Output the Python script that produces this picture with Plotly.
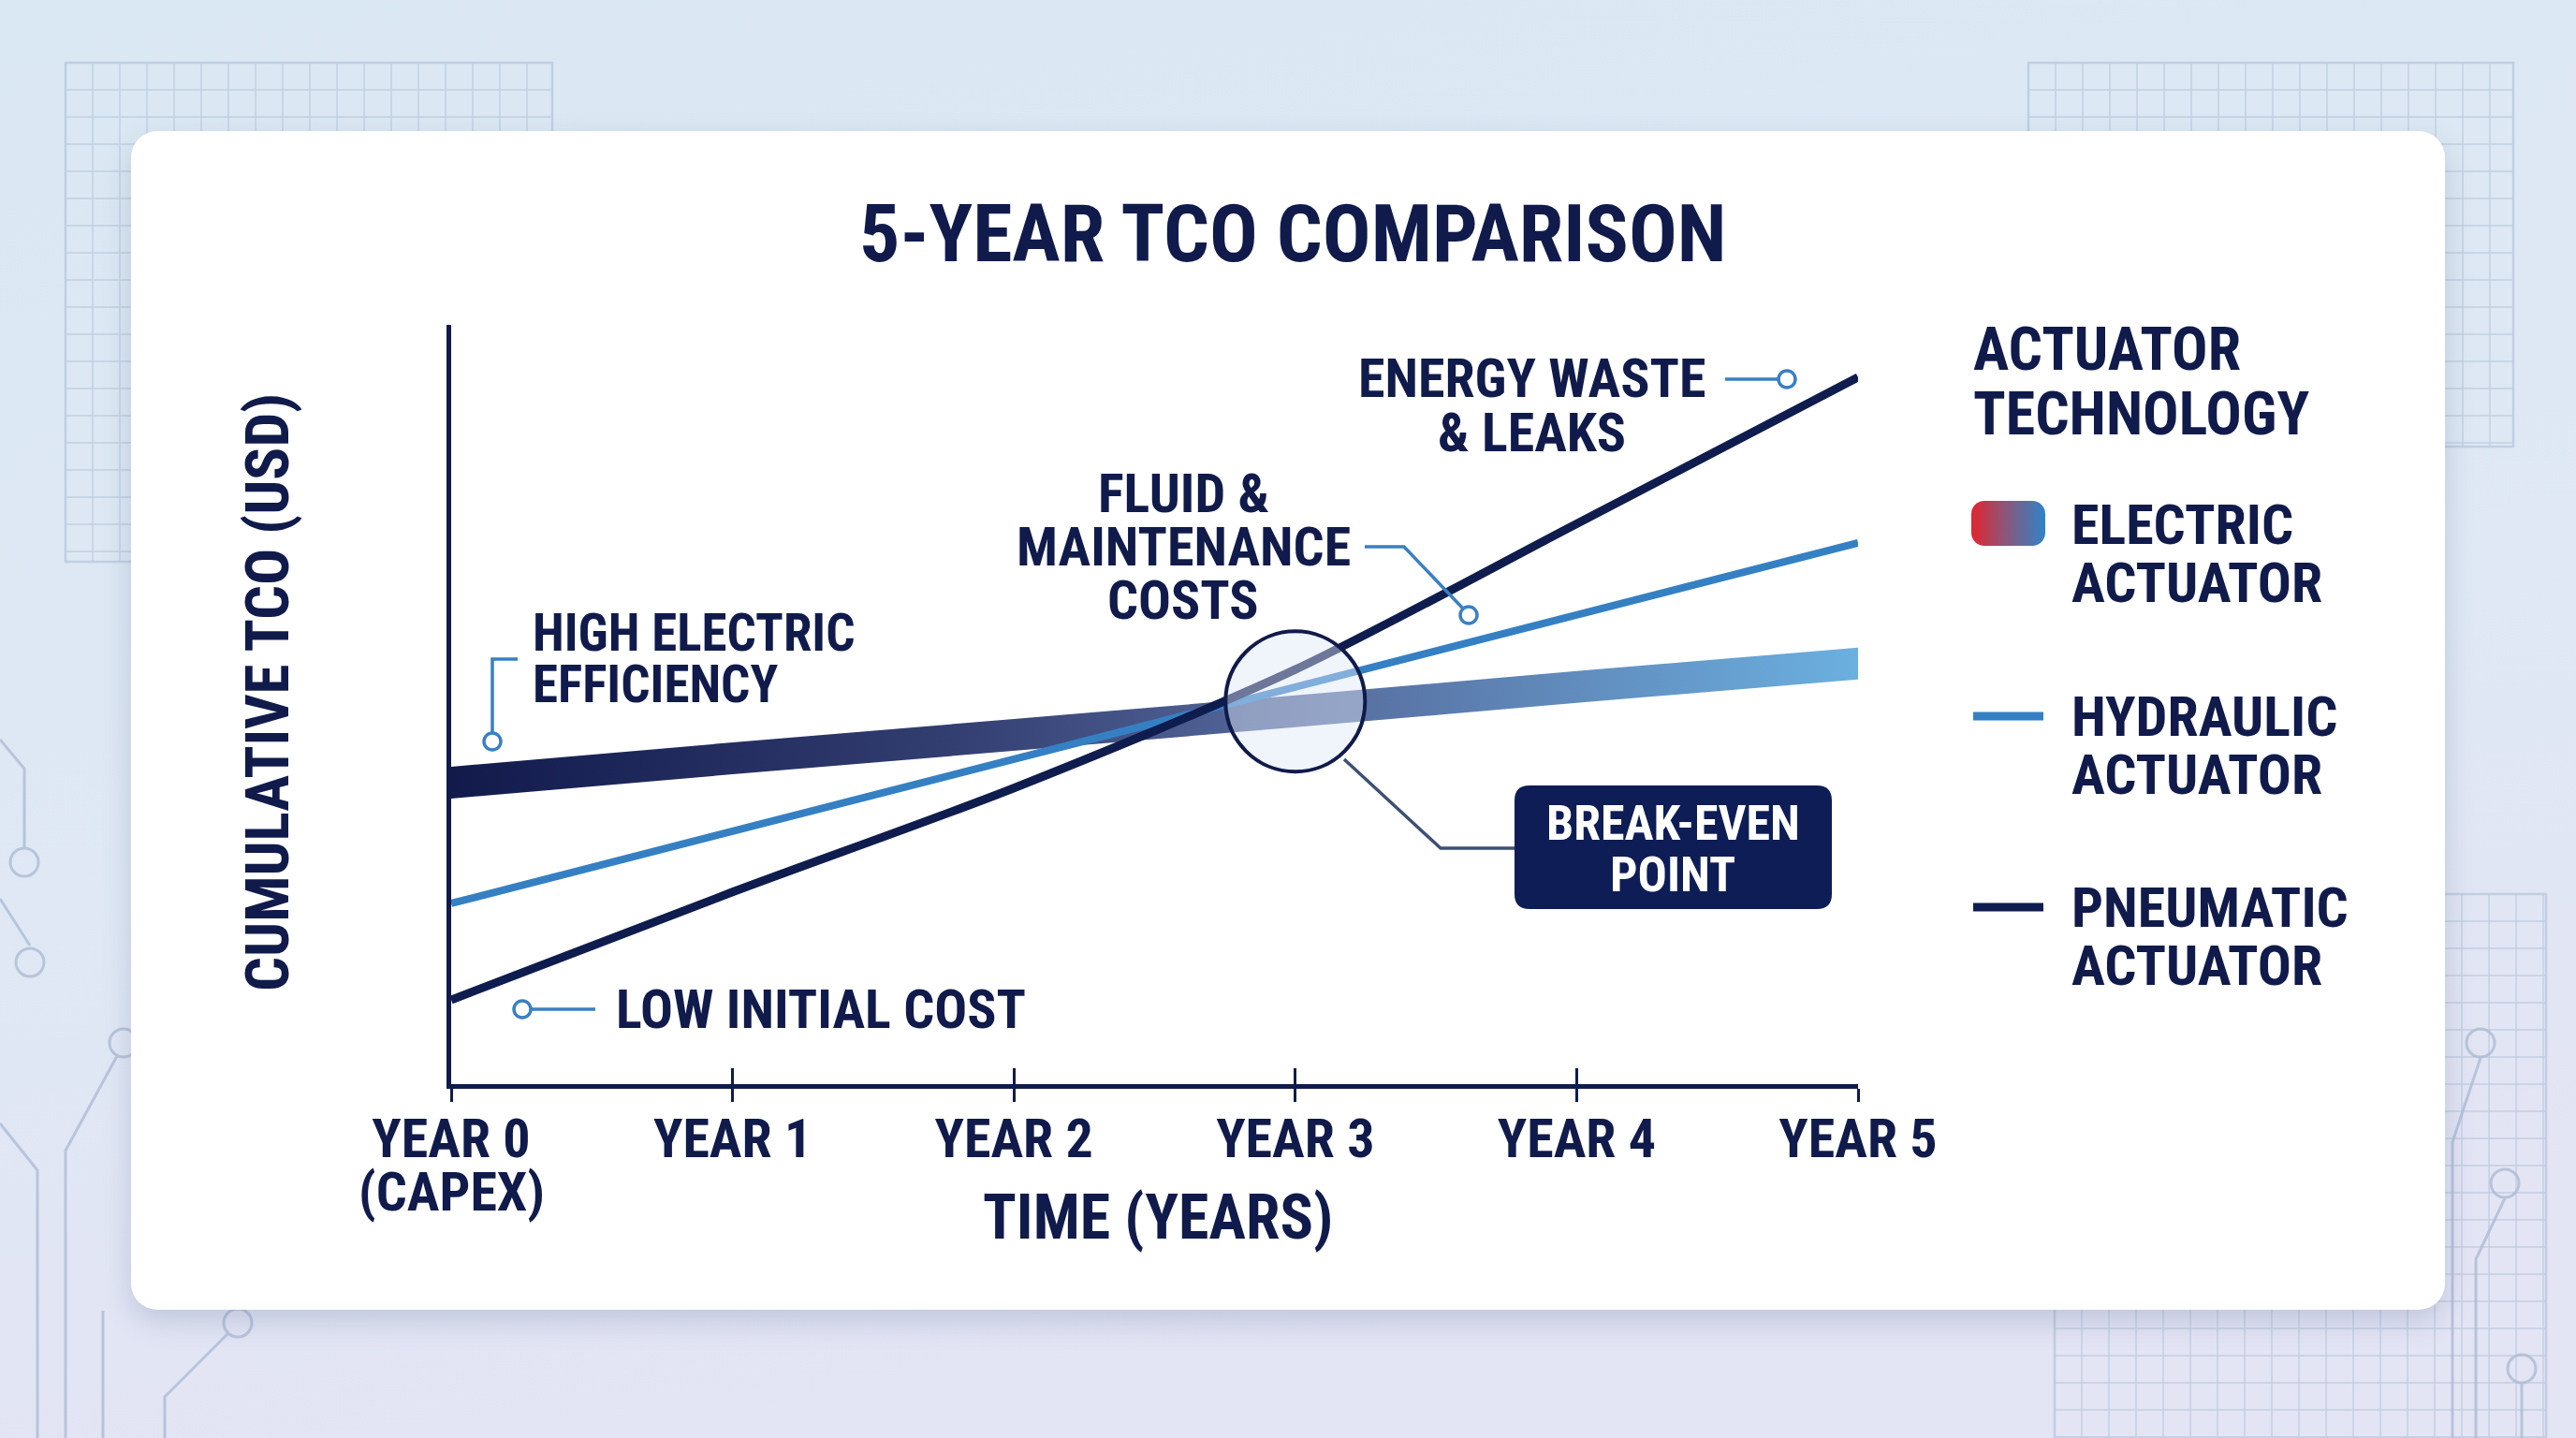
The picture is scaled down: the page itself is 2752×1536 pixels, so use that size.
import base64
import plotly.graph_objects as go

# ---------------- data ----------------
years = [0, 1, 2, 3, 4, 5]
year_labels = ["YEAR 0", "YEAR 1", "YEAR 2", "YEAR 3", "YEAR 4", "YEAR 5"]
year0_note = "(CAPEX)"

electric_tco = [39.7, 42.9, 46.0, 49.1, 52.3, 55.4]
hydraulic_tco = [23.8, 33.3, 42.8, 52.3, 61.8, 71.3]
pneumatic_tco = [11.1, 25.3, 39.0, 54.6, 73.8, 93.1]

series_labels = [["ELECTRIC", "ACTUATOR"], ["HYDRAULIC", "ACTUATOR"], ["PNEUMATIC", "ACTUATOR"]]
legend_title = ["ACTUATOR", "TECHNOLOGY"]

chart_title = "5-YEAR TCO COMPARISON"
x_title = "TIME (YEARS)"
y_title = "CUMULATIVE TCO (USD)"

breakeven_year = 3.0
breakeven_tco = 50.4

callout_high = ["HIGH ELECTRIC", "EFFICIENCY"]
callout_low = ["LOW INITIAL COST"]
callout_fluid = ["FLUID &", "MAINTENANCE", "COSTS"]
callout_energy = ["ENERGY WASTE", "& LEAKS"]
breakeven_label = ["BREAK-EVEN", "POINT"]

# ---------------- styling / geometry ----------------
W, H = 2752, 1536
L, R, T, B = 482, 1985, 347, 1158
X_MAX, Y_MAX = 5, 100
NAVY = "#101b4b"
LINE_NAVY = "#0f1c4e"
BLUE = "#3580c3"
CALLOUT = "#3a7fc1"
FONT = "Liberation Sans Narrow, Roboto Condensed, DejaVu Sans Condensed, Liberation Sans, sans-serif"


def px_x(px):
    return (px - L) / (R - L)


def px_y(py):
    return (B - py) / (B - T)


fig = go.Figure()

# electric band with horizontal gradient
half = 17 / (B - T) * Y_MAX
band_x = years + years[::-1]
band_y = [v + half for v in electric_tco] + [v - half for v in electric_tco[::-1]]
fig.add_trace(go.Scatter(
    x=band_x, y=band_y, mode="lines", fill="toself",
    line=dict(width=0, color="rgba(0,0,0,0)"),
    fillgradient=dict(type="horizontal",
                      colorscale=[[0, "#121a4c"], [0.35, "#323d70"], [0.6, "#56699b"], [1, "#6bb0e0"]]),
    hoverinfo="skip", showlegend=False, name="ELECTRIC ACTUATOR"))

fig.add_trace(go.Scatter(x=years, y=hydraulic_tco, mode="lines",
                         line=dict(color=BLUE, width=8), showlegend=False,
                         name="HYDRAULIC ACTUATOR"))
fig.add_trace(go.Scatter(x=years, y=pneumatic_tco, mode="lines",
                         line=dict(color=LINE_NAVY, width=9, shape="spline", smoothing=0.8),
                         showlegend=False, name="PNEUMATIC ACTUATOR"))
# helper trace for the inner tick axis
fig.add_trace(go.Scatter(x=[0], y=[0], xaxis="x2", mode="markers",
                         marker=dict(opacity=0), hoverinfo="skip", showlegend=False))

shapes = []
annotations = []


def add_text(lines, x, y0, spacing, size, anchor="center", color=NAVY, angle=0):
    for i, t in enumerate(lines):
        annotations.append(dict(
            x=px_x(x), y=px_y(y0 + i * spacing), xref="paper", yref="paper",
            text=t, showarrow=False, xanchor=anchor, yanchor="middle", textangle=angle,
            font=dict(family=FONT, size=size, color=color, weight=700)))


def pline(pts, color=CALLOUT, width=3.5):
    path = "M " + " L ".join(f"{px_x(a):.5f},{px_y(b):.5f}" for a, b in pts)
    shapes.append(dict(type="path", path=path, xref="paper", yref="paper",
                       line=dict(color=color, width=width)))


def pcircle(cx, cy, r, color=CALLOUT, fill="white", width=3.5):
    shapes.append(dict(type="circle", xref="paper", yref="paper",
                       x0=px_x(cx - r), x1=px_x(cx + r), y0=px_y(cy + r), y1=px_y(cy - r),
                       line=dict(color=color, width=width), fillcolor=fill))


def rrect_path(x0, y0, x1, y1, r):
    P = lambda a, b: f"{px_x(a):.5f},{px_y(b):.5f}"
    return (f"M {P(x0 + r, y0)} L {P(x1 - r, y0)} Q {P(x1, y0)} {P(x1, y0 + r)} "
            f"L {P(x1, y1 - r)} Q {P(x1, y1)} {P(x1 - r, y1)} L {P(x0 + r, y1)} "
            f"Q {P(x0, y1)} {P(x0, y1 - r)} L {P(x0, y0 + r)} Q {P(x0, y0)} {P(x0 + r, y0)} Z")


# title & axis titles
add_text([chart_title], 1381, 249, 0, 86)
add_text([x_title], 1237, 1300, 0, 66)
add_text([y_title], 286, 740, 0, 65, angle=-90)
add_text([year0_note], 482, 1273, 0, 58)

# callouts
add_text(callout_high, 567, 676, 55, 55, anchor="left")
pline([(553, 704), (526, 704), (526, 783)])
pcircle(526, 792, 9)

add_text(callout_low, 656, 1078, 0, 58, anchor="left")
pline([(567, 1078), (636, 1078)])
pcircle(558, 1078, 9)

add_text(callout_fluid, 1264, 527, 57, 58)
pline([(1458, 584), (1500, 584), (1563, 650)])
pcircle(1569, 657, 9)

add_text(callout_energy, 1636, 404, 58, 58)
pline([(1843, 405), (1899, 405)])
pcircle(1909, 405, 9)

# break-even marker
rx = 74.5 / (R - L) * X_MAX
ry = 75 / (B - T) * Y_MAX
shapes.append(dict(type="circle", xref="x", yref="y",
                   x0=breakeven_year - rx, x1=breakeven_year + rx,
                   y0=breakeven_tco - ry, y1=breakeven_tco + ry,
                   line=dict(color=NAVY, width=4), fillcolor="rgba(222,231,247,0.45)"))
pline([(1436, 811), (1539, 906), (1620, 906)], color="#3e5072", width=3.5)
shapes.append(dict(type="path", path=rrect_path(1618, 839, 1957, 971, 16),
                   xref="paper", yref="paper", fillcolor="#0e1d55", line=dict(width=0)))
add_text(breakeven_label, 1787, 879, 55, 52, color="white")

# legend (manual)
add_text(legend_title, 2106, 374, 68, 64, anchor="left")
leg_y = [560, 765, 969]
for lbl, y in zip(series_labels, leg_y):
    add_text(lbl, 2211, y, 62, 60, anchor="left")
shapes.append(dict(type="line", xref="paper", yref="paper", x0=px_x(2108), x1=px_x(2183),
                   y0=px_y(765), y1=px_y(765), line=dict(color=BLUE, width=9)))
shapes.append(dict(type="line", xref="paper", yref="paper", x0=px_x(2108), x1=px_x(2183),
                   y0=px_y(969), y1=px_y(969), line=dict(color=LINE_NAVY, width=9)))

# ---------------- background svg ----------------
def grid(x0, y0, x1, y1, step, color="#a9bcd3", op=0.55):
    s = [f'<g stroke="{color}" stroke-width="1.4" opacity="{op}">']
    x = x0
    while x <= x1:
        s.append(f'<line x1="{x}" y1="{y0}" x2="{x}" y2="{y1}"/>')
        x += step
    y = y0
    while y <= y1:
        s.append(f'<line x1="{x0}" y1="{y}" x2="{x1}" y2="{y}"/>')
        y += step
    s.append(f'<rect x="{x0}" y="{y0}" width="{x1 - x0}" height="{y1 - y0}" fill="none" stroke-width="2.5"/>')
    s.append('</g>')
    return "".join(s)


circ = '<g stroke="#aebcd4" stroke-width="3" fill="none" opacity="0.8">'
for pts, c in [
    ([(0, 790), (26, 821), (26, 907)], (26, 921)),
    ([(0, 960), (32, 1010)], (32, 1028)),
    ([(70, 1536), (70, 1229), (125, 1128)], (132, 1114)),
    ([(0, 1200), (40, 1250), (40, 1536)], None),
    ([(176, 1536), (176, 1492), (243, 1425)], (254, 1413)),
    ([(110, 1400), (110, 1536)], None),
    ([(2650, 1130), (2620, 1220), (2620, 1536)], (2650, 1114)),
    ([(2676, 1280), (2645, 1345), (2645, 1536)], (2676, 1264)),
    ([(2694, 1478), (2694, 1536)], (2694, 1462)),
]:
    circ += '<polyline points="' + " ".join(f"{a},{b}" for a, b in pts) + '"/>'
    if c:
        circ += f'<circle cx="{c[0]}" cy="{c[1]}" r="15"/>'
circ += '</g>'

bg_svg = f'''<svg xmlns="http://www.w3.org/2000/svg" width="{W}" height="{H}" viewBox="0 0 {W} {H}">
<defs>
<linearGradient id="bg" x1="0" y1="0" x2="0.25" y2="1">
<stop offset="0" stop-color="#dae8f3"/><stop offset="0.6" stop-color="#dfe8f4"/><stop offset="1" stop-color="#e3e4f4"/>
</linearGradient>
<filter id="sh" x="-10%" y="-10%" width="120%" height="120%"><feGaussianBlur stdDeviation="16"/></filter>
</defs>
<rect width="{W}" height="{H}" fill="url(#bg)"/>
{grid(70, 67, 590, 600, 29)}
{grid(2167, 67, 2685, 477, 29)}
{grid(2195, 955, 2720, 1536, 29)}
{circ}
<rect x="140" y="152" width="2472" height="1259" rx="30" fill="#50648f" opacity="0.24" filter="url(#sh)"/>
<rect x="140" y="140" width="2472" height="1259" rx="28" fill="#ffffff"/>
</svg>'''

sw_svg = '''<svg xmlns="http://www.w3.org/2000/svg" width="79" height="48" viewBox="0 0 79 48">
<defs><linearGradient id="g" x1="0" y1="0" x2="1" y2="0">
<stop offset="0" stop-color="#e3242f"/><stop offset="0.45" stop-color="#8e5579"/><stop offset="1" stop-color="#2f84c8"/>
</linearGradient></defs>
<rect x="0" y="0" width="79" height="48" rx="14" fill="url(#g)"/></svg>'''


def uri(s):
    return "data:image/svg+xml;base64," + base64.b64encode(s.encode()).decode()


images = [
    dict(source=uri(bg_svg), xref="paper", yref="paper", x=px_x(0), y=px_y(0),
         sizex=W / (R - L), sizey=H / (B - T), xanchor="left", yanchor="top",
         sizing="stretch", layer="below"),
    dict(source=uri(sw_svg), xref="paper", yref="paper", x=px_x(2106), y=px_y(535),
         sizex=79 / (R - L), sizey=48 / (B - T), xanchor="left", yanchor="top",
         sizing="stretch", layer="above"),
]

fig.update_layout(
    width=W, height=H, autosize=False,
    margin=dict(l=L, r=W - R, t=T, b=H - B, pad=0),
    paper_bgcolor="#dde8f3", plot_bgcolor="rgba(0,0,0,0)",
    showlegend=False,
    font=dict(family=FONT, color=NAVY),
    xaxis=dict(range=[0, X_MAX], showgrid=False, zeroline=False, showline=True,
               linecolor=NAVY, linewidth=5, ticks="outside", ticklen=14, tickwidth=3,
               tickcolor=NAVY, tickvals=years, ticktext=year_labels, ticklabelstandoff=-11,
               tickfont=dict(family=FONT, size=58, color=NAVY, weight=700),
               fixedrange=True),
    xaxis2=dict(range=[0, X_MAX], overlaying="x", anchor="y", side="bottom",
                showgrid=False, zeroline=False, showline=False, ticks="inside",
                ticklen=17, tickwidth=3, tickcolor=NAVY, tickvals=years[1:],
                showticklabels=False, fixedrange=True),
    yaxis=dict(range=[0, Y_MAX], showgrid=False, zeroline=False, showline=True,
               linecolor=NAVY, linewidth=5, ticks="", showticklabels=False, fixedrange=True),
    shapes=shapes, annotations=annotations, images=images,
)

fig.write_html("out.html", config={"displayModeBar": False},
               post_script="document.body.style.margin='0';document.body.style.overflow='hidden';")
